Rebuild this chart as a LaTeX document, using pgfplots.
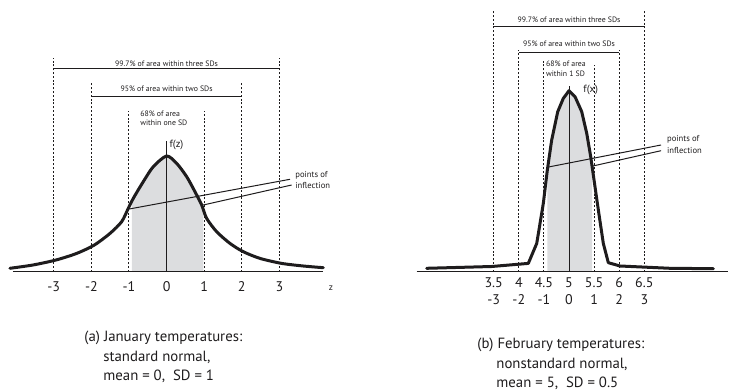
\documentclass[border=0pt]{standalone}
\usepackage{pgfplots}
\pgfplotsset{compat=1.18}
\usepackage{fontspec}
\setmainfont{PT Sans}
\definecolor{shade}{RGB}{220,221,223}
\definecolor{ink}{RGB}{30,28,29}
\tikzset{
  tinytxt/.style={font=\fontsize{3.9}{4.6}\selectfont, text=ink, inner sep=0pt},
  smalltxt/.style={font=\fontsize{4.3}{5}\selectfont, text=ink, inner sep=0pt},
  ticktxt/.style={font=\fontsize{7}{8}\selectfont, text=ink, inner sep=0pt},
  captxt/.style={font=\fontsize{7.4}{9}\selectfont, text=ink, inner sep=0pt, anchor=west},
}
\pgfplotsset{
  dotline/.style={ink, line width=0.5pt, dash pattern=on 1pt off 0.9pt},
  thinline/.style={ink, line width=0.5pt},
  curveline/.style={ink, line width=1.5pt, line join=round, line cap=round},
}
\begin{document}
\begin{tikzpicture}
\path[use as bounding box] (0,0) rectangle (366pt,195pt);
% ---------------- panel (a) ----------------
\begin{axis}[at={(0pt,0pt)}, anchor=south west, x=18.8pt, y=0.5pt,
  xmin=-4.43, xmax=5.30, ymin=-118.3, ymax=271.7,
  hide axis, clip=false, no markers]
\addplot[fill=shade, draw=none] coordinates {
 (-0.92,0) (-0.92,70.5) (-0.886,73.3) (-0.62,90) (-0.354,105) (0,115.7)
 (0.269,108.3) (0.535,95) (0.755,80) (0.934,66.7) (0.98,62) (0.98,0)};
\addplot[dotline] coordinates {(-1,0) (-1,161)};
\addplot[dotline] coordinates {(1,0) (1,161)};
\addplot[dotline] coordinates {(-2,0) (-2,188.7)};
\addplot[dotline] coordinates {(2,0) (2,188.7)};
\addplot[dotline] coordinates {(-3,0) (-3,213.7)};
\addplot[dotline] coordinates {(3,0) (3,213.7)};
\addplot[thinline] coordinates {(-3,203.4) (3,203.4)};
\addplot[thinline] coordinates {(-2,175) (2,175)};
\addplot[thinline] coordinates {(0,0) (0,131)};
\addplot[thinline] coordinates {(-0.992,62.7) (3.282,92.4)};
\addplot[thinline] coordinates {(0.976,66.7) (3.327,86.7)};
\addplot[curveline, smooth, tension=0.45] coordinates {
 (-4.165,3.4) (-3.553,6.7) (-2.94,11.7) (-2.39,18.3) (-1.92,26.7)
 (-1.505,38.3) (-1.194,50) (-1.019,63.3) (-0.886,73.3) (-0.62,90)
 (-0.354,105) (0,115.7) (0.269,108.3) (0.535,95) (0.755,80)
 (0.934,66.7) (1.066,53.3) (1.332,40) (1.686,28.3) (2.04,20)
 (2.484,13.3) (3.061,8.3) (3.636,5.7) (4.168,4)};
\addplot[thinline] coordinates {(-4.085,0) (4.16,0)};
\node[tinytxt] at (axis cs:0,207.7) {99.7\% of area within three SDs};
\node[tinytxt] at (axis cs:0,183.4) {95\% of area within two SDs};
\node[tinytxt, anchor=west] at (axis cs:-0.707,158.4) {68\% of area};
\node[tinytxt, anchor=west] at (axis cs:-0.707,149) {within one SD};
\node[font=\fontsize{5.2}{6}\selectfont, text=ink, inner sep=0pt, anchor=west] at (axis cs:0.07,126.7) {f(z)};
\node[smalltxt, anchor=west] at (axis cs:3.415,96.7) {points of};
\node[smalltxt, anchor=west] at (axis cs:3.415,86.7) {inflection};
\node[font=\fontsize{4.6}{5}\selectfont, text=ink, inner sep=0pt] at (axis cs:4.372,-16.3) {z};
\node[ticktxt] at (axis cs:-3,-15) {-3};
\node[ticktxt] at (axis cs:-2,-15) {-2};
\node[ticktxt] at (axis cs:-1,-15) {-1};
\node[ticktxt] at (axis cs:0,-15) {0};
\node[ticktxt] at (axis cs:1,-15) {1};
\node[ticktxt] at (axis cs:2,-15) {2};
\node[ticktxt] at (axis cs:3,-15) {3};
\node[captxt] at (axis cs:-2.195,-66.3) {(a) January temperatures:};
\node[captxt] at (axis cs:-1.691,-85.3) {standard normal,};
\node[captxt] at (axis cs:-1.691,-104.3) {mean = 0,\ \ SD = 1};
\end{axis}
% ---------------- panel (b) ----------------
\begin{axis}[at={(183pt,0pt)}, anchor=south west, x=25.1pt, y=0.5pt,
  xmin=0.956, xmax=8.247, ymin=-118.3, ymax=271.7,
  hide axis, clip=false, no markers]
\addplot[fill=shade, draw=none] coordinates {
 (4.57,0) (4.57,102) (4.655,131.7) (4.775,160) (4.886,173.3) (5,181)
 (5.12,175) (5.253,160) (5.353,138.3) (5.432,115) (5.46,105) (5.46,0)};
\addplot[dotline] coordinates {(3.5,0) (3.5,261.7)};
\addplot[dotline] coordinates {(6.5,0) (6.5,261.7)};
\addplot[dotline] coordinates {(4,0) (4,221.7)};
\addplot[dotline] coordinates {(6,0) (6,221.7)};
\addplot[dotline] coordinates {(4.5,0) (4.5,212.7)};
\addplot[dotline] coordinates {(5.5,0) (5.5,206.7)};
\addplot[thinline] coordinates {(3.5,245) (6.5,245)};
\addplot[thinline] coordinates {(4,219) (6,219)};
\addplot[thinline] coordinates {(5,0) (5,185.7)};
\addplot[thinline] coordinates {(4.562,104.4) (6.833,126.7)};
\addplot[thinline] coordinates {(5.458,105.5) (6.833,121)};
\addplot[curveline] coordinates {
 (2.165,3.4) (3.46,5.2) (4.189,8.3) (4.357,28.3) (4.488,68.3)
 (4.568,101.7) (4.655,131.7) (4.775,160) (4.886,173.3) (5,181)
 (5.12,175) (5.253,160) (5.353,138.3) (5.432,115) (5.498,91.7)
 (5.584,61.7) (5.683,28.3) (5.783,9) (6.016,5.7) (7.012,3.4) (7.875,3)};
\addplot[thinline] coordinates {(1.966,0) (8.167,0)};
\node[tinytxt] at (axis cs:5,251.7) {99.7\% of area within three SDs};
\node[tinytxt] at (axis cs:5,227.7) {95\% of area within two SDs};
\node[tinytxt, anchor=west] at (axis cs:4.536,208.4) {68\% of area};
\node[tinytxt, anchor=west] at (axis cs:4.536,197.7) {within 1 SD};
\node[font=\fontsize{5.2}{6}\selectfont, text=ink, inner sep=0pt, anchor=west] at (axis cs:5.279,181.7) {f(x)};
\node[smalltxt, anchor=west] at (axis cs:6.946,132.4) {points of};
\node[smalltxt, anchor=west] at (axis cs:6.946,121.7) {inflection};
\node[ticktxt] at (axis cs:3.5,-11) {3.5};
\node[ticktxt] at (axis cs:4,-11) {4};
\node[ticktxt] at (axis cs:4.5,-11) {4.5};
\node[ticktxt] at (axis cs:5,-11) {5};
\node[ticktxt] at (axis cs:5.5,-11) {5.5};
\node[ticktxt] at (axis cs:6,-11) {6};
\node[ticktxt] at (axis cs:6.5,-11) {6.5};
\node[ticktxt] at (axis cs:3.5,-27.8) {-3};
\node[ticktxt] at (axis cs:4,-27.8) {-2};
\node[ticktxt] at (axis cs:4.5,-27.8) {-1};
\node[ticktxt] at (axis cs:5,-27.8) {0};
\node[ticktxt] at (axis cs:5.5,-27.8) {1};
\node[ticktxt] at (axis cs:6,-27.8) {2};
\node[ticktxt] at (axis cs:6.5,-27.8) {3};
\node[captxt] at (axis cs:3.167,-73.3) {(b) February temperatures:};
\node[captxt] at (axis cs:3.546,-92.3) {nonstandard normal,};
\node[captxt] at (axis cs:3.546,-111.3) {mean = 5,\ \ SD = 0.5};
\end{axis}
\end{tikzpicture}
\end{document}
